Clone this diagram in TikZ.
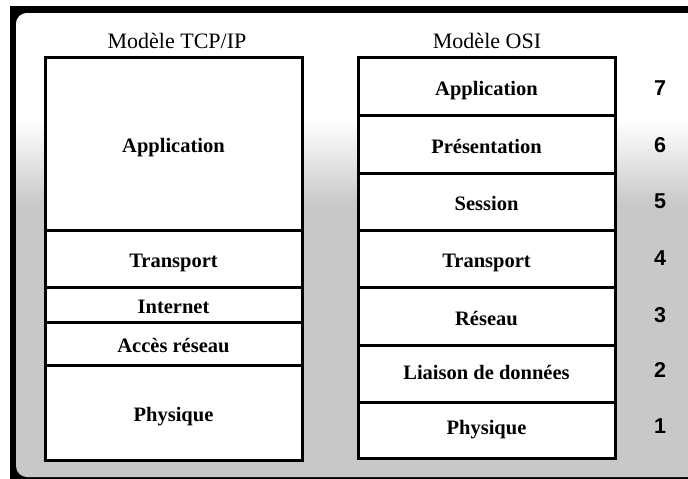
\documentclass[tikz,border=0pt]{standalone}
\usepackage{fontspec}
\setmainfont{Liberation Serif}
\newfontfamily\numfont{Liberation Sans}
\definecolor{panelgray}{RGB}{200,200,200}
\begin{document}
\begin{tikzpicture}[x=1pt,y=-1pt,
  layer/.style={draw=black,line width=3pt,fill=white,minimum width=257pt,inner sep=0pt,
    text height=18pt,text depth=0pt,
    font=\fontsize{20.5}{22}\selectfont\bfseries},
  title/.style={font=\fontsize{22}{24}\selectfont},
  num/.style={font=\numfont\fontsize{21.5}{23}\selectfont\bfseries}]
\useasboundingbox (0,0) rectangle (688,479);
% frame
\fill[black] (10,6) rectangle (688,479);
\begin{scope}
\clip[rounded corners=11pt] (16,13) rectangle (698,477);
\fill[panelgray] (0,0) rectangle (700,479);
\fill[white] (0,0) rectangle (700,120);
\shade[top color=white,bottom color=panelgray] (0,120) rectangle (700,205);
\end{scope}
% titles
\node[title] (ttcp) at (177,41) {Modèle TCP/IP};
\node[title] (tosi) at (487,41) {Modèle OSI};
% TCP/IP stack (x 45-302)
\node[layer,minimum height=173pt] (tapp) at (173.5,143.5) {Application};
\node[layer,minimum height=57pt] (ttra) at (173.5,258.5) {Transport};
\node[layer,minimum height=35pt] (tint) at (173.5,304.5) {Internet};
\node[layer,minimum height=43pt] (tacc) at (173.5,343.5) {Accès réseau};
\node[layer,minimum height=95pt] (tphy) at (173.5,412.5) {Physique};
% OSI stack (x 359-614)
\begin{scope}[every node/.append style={minimum width=255pt}]
\node[layer,minimum height=58pt] (o7) at (486.5,86) {Application};
\node[layer,minimum height=58pt] (o6) at (486.5,144) {Présentation};
\node[layer,minimum height=57pt] (o5) at (486.5,201.5) {Session};
\node[layer,minimum height=57pt] (o4) at (486.5,258.5) {Transport};
\node[layer,minimum height=58pt] (o3) at (486.5,316) {Réseau};
\node[layer,minimum height=57pt,text height=11pt] (o2) at (486.5,373.5) {Liaison de données};
\node[layer,minimum height=56pt,text height=9pt] (o1) at (486.5,430) {Physique};
\end{scope}
% numbers
\node[num] (n7) at (660,88) {7};
\node[num] (n6) at (660,145) {6};
\node[num] (n5) at (660,201) {5};
\node[num] (n4) at (660,258) {4};
\node[num] (n3) at (660,315) {3};
\node[num] (n2) at (660,370) {2};
\node[num] (n1) at (660,426) {1};
\end{tikzpicture}
\end{document}
